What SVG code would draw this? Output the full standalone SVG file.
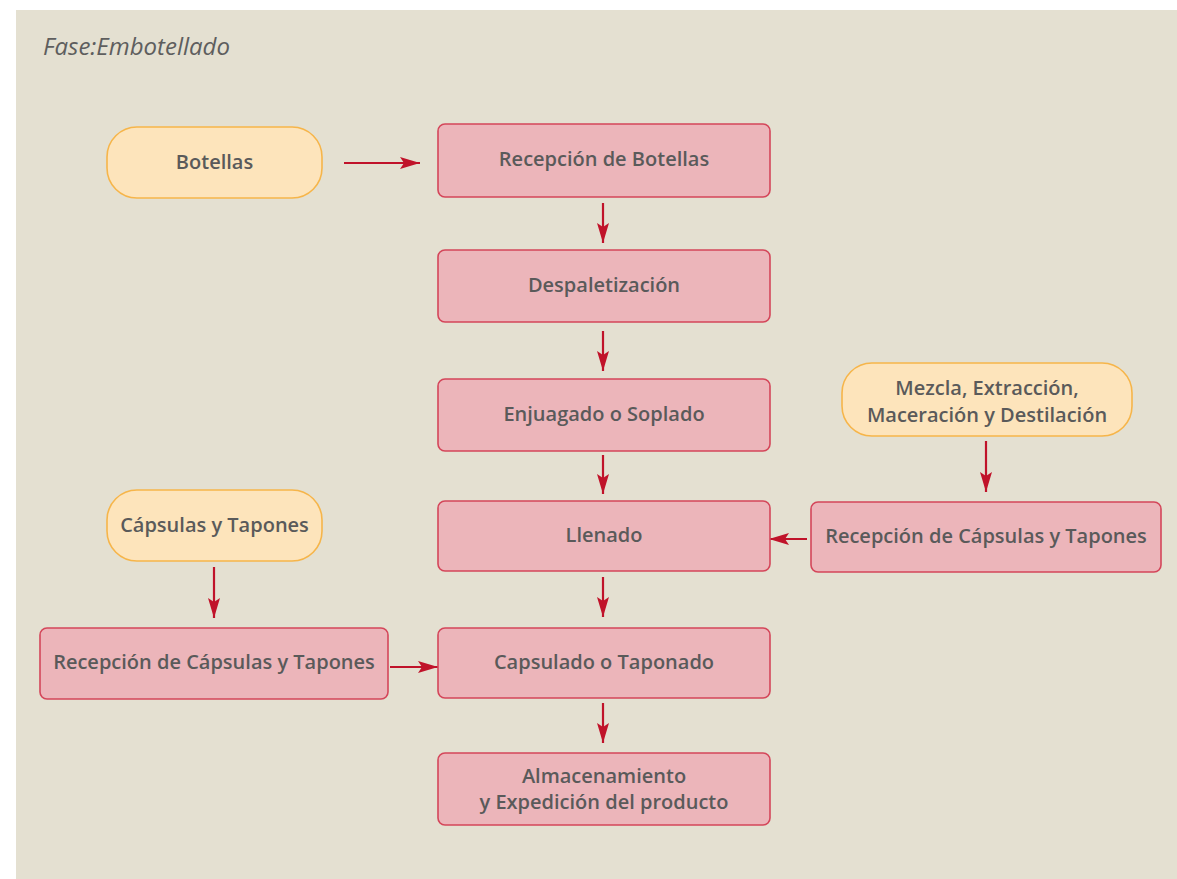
<svg xmlns="http://www.w3.org/2000/svg" width="1177" height="879" viewBox="0 0 1177 879">
<defs>
<style>
.bg{fill:#e4e0d1}
.box{fill:#ecb5ba;stroke:#d4465a;stroke-width:1.6}
.pill{fill:#fde4bb;stroke:#f6b54a;stroke-width:1.6}
.t{font-family:"Open Sans","Noto Sans",sans-serif;font-weight:600;font-size:20px;fill:#5a5a5a;text-anchor:middle}
.title{font-family:"Open Sans","Noto Sans",sans-serif;font-style:italic;font-size:24px;fill:#5e5e5e}
.c{stroke:#c0132a;stroke-width:2.2;fill:none}
</style>
<marker id="ah" viewBox="0 0 20 12" refX="20" refY="6" markerWidth="20" markerHeight="12" markerUnits="userSpaceOnUse" orient="auto">
<path d="M0,0 L20,6 L0,12 L4,6 Z" fill="#c0132a"/>
</marker>
</defs>
<rect class="bg" x="16" y="10" width="1161" height="869"/>
<text class="title" x="43" y="55">Fase:Embotellado</text>

<g id="connectors">
<line class="c" x1="344" y1="163" x2="420" y2="163" marker-end="url(#ah)"/>
<line class="c" x1="603" y1="203" x2="603" y2="243" marker-end="url(#ah)"/>
<line class="c" x1="603" y1="331" x2="603" y2="371" marker-end="url(#ah)"/>
<line class="c" x1="603" y1="455" x2="603" y2="494" marker-end="url(#ah)"/>
<line class="c" x1="603" y1="577" x2="603" y2="617" marker-end="url(#ah)"/>
<line class="c" x1="603" y1="703" x2="603" y2="743" marker-end="url(#ah)"/>
<line class="c" x1="986" y1="441" x2="986" y2="492" marker-end="url(#ah)"/>
<line class="c" x1="807" y1="539" x2="769" y2="539" marker-end="url(#ah)"/>
<line class="c" x1="214" y1="567" x2="214" y2="618" marker-end="url(#ah)"/>
<line class="c" x1="390" y1="667" x2="438" y2="667" marker-end="url(#ah)"/>
</g>

<g id="n-botellas">
<rect class="pill" x="107" y="127" width="215" height="71" rx="30"/>
<text class="t" x="214.5" y="169">Botellas</text>
</g>
<g id="n-recepcion-botellas">
<rect class="box" x="438" y="124" width="332" height="73" rx="7"/>
<text class="t" x="604" y="166">Recepción de Botellas</text>
</g>
<g id="n-despaletizacion">
<rect class="box" x="438" y="250" width="332" height="72" rx="7"/>
<text class="t" x="604" y="292">Despaletización</text>
</g>
<g id="n-enjuagado">
<rect class="box" x="438" y="379" width="332" height="72" rx="7"/>
<text class="t" x="604" y="421">Enjuagado o Soplado</text>
</g>
<g id="n-llenado">
<rect class="box" x="438" y="501" width="332" height="70" rx="7"/>
<text class="t" x="604" y="542">Llenado</text>
</g>
<g id="n-capsulado">
<rect class="box" x="438" y="628" width="332" height="70" rx="7"/>
<text class="t" x="604" y="669">Capsulado o Taponado</text>
</g>
<g id="n-almacenamiento">
<rect class="box" x="438" y="753" width="332" height="72" rx="7"/>
<text class="t" x="604" y="783">Almacenamiento</text>
<text class="t" x="604" y="809">y Expedición del producto</text>
</g>
<g id="n-mezcla">
<rect class="pill" x="842" y="363" width="290" height="73" rx="30"/>
<text class="t" x="987" y="395">Mezcla, Extracción,</text>
<text class="t" x="987" y="422">Maceración y Destilación</text>
</g>
<g id="n-recepcion-capsulas-der">
<rect class="box" x="811" y="502" width="350" height="70" rx="7"/>
<text class="t" x="986" y="543">Recepción de Cápsulas y Tapones</text>
</g>
<g id="n-capsulas">
<rect class="pill" x="107" y="490" width="215" height="71" rx="30"/>
<text class="t" x="214.5" y="532">Cápsulas y Tapones</text>
</g>
<g id="n-recepcion-capsulas-izq">
<rect class="box" x="40" y="628" width="348" height="71" rx="7"/>
<text class="t" x="214" y="669">Recepción de Cápsulas y Tapones</text>
</g>
</svg>
